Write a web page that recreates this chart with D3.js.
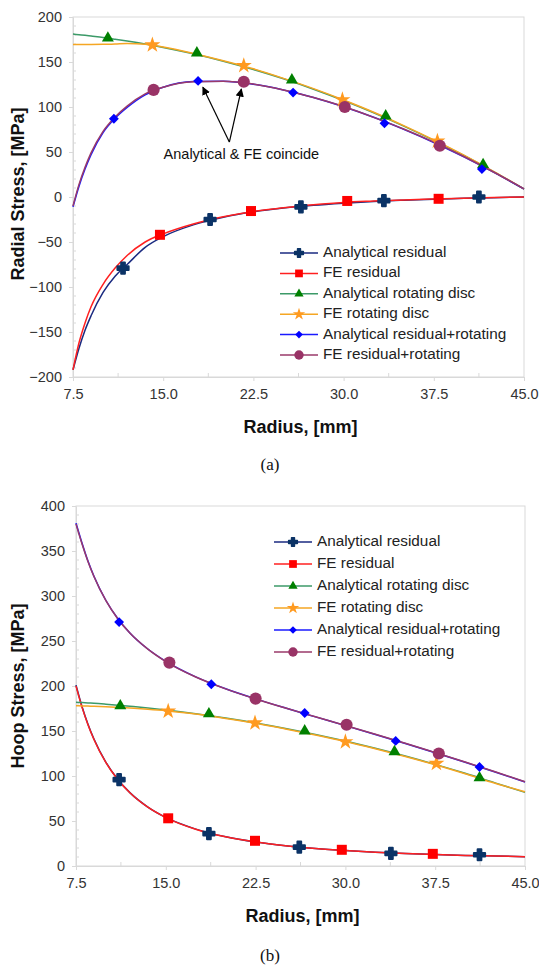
<!DOCTYPE html>
<html>
<head>
<meta charset="utf-8">
<script src="https://cdn.jsdelivr.net/npm/d3@7"></script>
<style>
  body { margin: 0; background: #fff; }
  svg { display: block; font-family: "Liberation Sans", Arial, sans-serif; }
</style>
</head>
<body>
<svg id="chart" width="539" height="969"></svg>
<script>
const radius = [7.5, 8, 8.5, 9, 10, 11, 12, 13.5, 15, 17.5, 20, 22.5, 25, 27.5, 30, 32.5, 35, 37.5, 40, 42.5, 45];

const seriesNames = ['Analytical residual', 'FE residual', 'Analytical rotating disc',
  'FE rotating disc', 'Analytical residual+rotating', 'FE residual+rotating'];

// (a) radial stress, MPa
const radialAnaResidual = [-192, -168, -148, -132, -106, -88, -75, -56, -44, -31, -22.5, -16.5, -12.3, -9.2, -6.9, -5, -3.6, -2.4, -1.5, -0.7, 0];
const radialFeResidual  = [-192, -162, -140, -122, -97, -79, -65, -50, -41, -30, -22, -16, -12, -8.6, -6, -4.5, -3.2, -2.2, -1.3, -0.6, 0];
const radialAnaRotating = [181, 180.3, 179.6, 178.8, 177.2, 175.3, 173.3, 170, 166.2, 159.1, 150.9, 141.7, 131.3, 119.8, 107.2, 93.6, 78.8, 63, 46.1, 28, 8.9];
const radialFeRotating  = [169.5, 169.5, 169.5, 169.5, 169.6, 170, 170.6, 169.8, 166.6, 159.5, 151.4, 142.4, 131.8, 120.4, 107.8, 94.2, 79.3, 63.4, 46.5, 28.3, 9];
const radialAnaCombined = [-11, 12, 31, 47, 71.6, 87.5, 99.5, 113.5, 122, 128.3, 128.6, 125.3, 119, 110.6, 100.3, 88.6, 75.2, 60.6, 44.6, 27.3, 8.9];
const radialFeCombined  = [-10, 14, 33, 49, 73, 89, 101, 114.5, 122, 128, 128.5, 125.5, 119, 110.5, 100.5, 88.5, 75.5, 61, 45, 27.5, 9];

const radialAnaResidualMarks = [[11.66, -79], [18.9, -25], [26.45, -11], [33.35, -4], [41.25, 0]];
const radialFeResidualMarks  = [[14.73, -42], [22.3, -15.6], [30.3, -4.4], [37.9, -2]];
const radialAnaRotatingMarks = [[10.4, 176.5], [17.8, 160], [25.7, 130], [33.5, 90], [41.6, 36]];
const radialFeRotatingMarks  = [[14.1, 169], [21.7, 146], [29.9, 108], [37.8, 62]];
const radialAnaCombinedMarks = [[10.9, 87], [17.9, 129], [25.8, 116], [33.4, 82], [41.5, 31]];
const radialFeCombinedMarks  = [[14.2, 119], [21.7, 128], [30.1, 100], [38, 57]];

// (b) hoop stress, MPa
const hoopAnaResidual = [201, 177.3, 157.6, 141.1, 115.2, 96.1, 81.5, 65.5, 54, 41, 32.5, 26.7, 22.6, 19.5, 17.2, 15.4, 14, 12.8, 11.8, 11.1, 10.4];
const hoopFeResidual  = [200, 176.5, 157, 140.6, 114.8, 95.8, 81.3, 65.3, 53.8, 40.9, 32.4, 26.7, 22.6, 19.5, 17.2, 15.4, 14, 12.8, 11.8, 11.1, 10.4];
const hoopAnaRotating = [182, 181.6, 181.2, 180.8, 179.8, 178.7, 177.5, 175.6, 173.4, 169.2, 164.4, 159, 152.9, 146.2, 138.8, 130.8, 122.2, 112.9, 103, 92.4, 81.8];
const hoopFeRotating  = [178, 177.9, 177.7, 177.5, 177, 176.3, 175.5, 174.2, 172.6, 168.8, 164, 158.6, 152.3, 145.6, 138.3, 130.2, 121.6, 112.4, 102.4, 91.9, 82.5];
const hoopAnaCombined = [381, 358.9, 338.8, 321.9, 295, 274.8, 259, 241.1, 227.4, 210.2, 196.9, 185.7, 175.5, 165.7, 156, 146.2, 136.2, 125.9, 115.3, 104.5, 93.3];
const hoopFeCombined  = [380, 358, 338.4, 321.6, 294.8, 274.5, 258.8, 241, 227.2, 210, 196.8, 185.6, 175.5, 165.8, 156.2, 146.4, 136.4, 126, 115.5, 104.7, 93.7];

const hoopAnaResidualMarks = [[11.1, 96], [18.6, 36], [26.15, 21], [33.8, 14], [41.2, 12.5]];
const hoopFeResidualMarks  = [[15.2, 53], [22.45, 28], [29.7, 18], [37.3, 13.5]];
const hoopAnaRotatingMarks = [[11.2, 178], [18.6, 169], [26.6, 150], [34.1, 127], [41.2, 98]];
const hoopFeRotatingMarks  = [[15.2, 172], [22.45, 159], [30, 138], [37.6, 114]];
const hoopAnaCombinedMarks = [[11.1, 271], [18.8, 202], [26.6, 170], [34.2, 139], [41.2, 110]];
const hoopFeCombinedMarks  = [[15.3, 226], [22.5, 186], [30.1, 157], [37.8, 125]];

const xTicks = [7.5, 15, 22.5, 30, 37.5, 45];
const radialTicks = [-200, -150, -100, -50, 0, 50, 100, 150, 200];
const hoopTicks = [0, 50, 100, 150, 200, 250, 300, 350, 400];

// styles for the six series
const lineColors   = ['#1a2a80', '#ff2020', '#3c9a68', '#f5a623', '#1a1aff', '#9a3a6a'];
const markerColors = ['#0b3366', '#ff0000', '#008000', '#ff9a20', '#0000ff', '#993366'];
const shapes = [d3.symbolCross, d3.symbolSquare, d3.symbolTriangle, d3.symbolStar, d3.symbolDiamond2, d3.symbolCircle];
const shapeSizes = [70, 100, 62, 80, 62, 115];

const svg = d3.select('#chart');

function drawPanel(opt) {
  const g = svg.append('g');
  const x = d3.scaleLinear().domain([7.5, 45]).range([opt.left, opt.right]);
  const y = d3.scaleLinear().domain([opt.ticks[0], opt.ticks[opt.ticks.length - 1]]).range([opt.bottom, opt.top]);
  const axisColor = '#d9d9d9';

  //plot area frame
  g.append('rect')
    .attr('x', opt.left).attr('y', opt.top)
    .attr('width', opt.right - opt.left).attr('height', opt.bottom - opt.top)
    .attr('fill', 'none').attr('stroke', axisColor);

  //minor ticks (inside)
  const yMinor = d3.range(opt.ticks[0], opt.ticks[opt.ticks.length - 1], 10).filter(v => v % 50 !== 0);
  g.selectAll('.ym').data(yMinor).join('line')
    .attr('x1', opt.left).attr('x2', opt.left + 3)
    .attr('y1', d => y(d)).attr('y2', d => y(d))
    .attr('stroke', axisColor);
  g.selectAll('.xm').data([11.25, 18.75, 26.25, 33.75, 41.25]).join('line')
    .attr('x1', d => x(d)).attr('x2', d => x(d))
    .attr('y1', opt.bottom).attr('y2', opt.bottom - 4)
    .attr('stroke', axisColor);

  const yAxis = g.append('g')
    .attr('transform', `translate(${opt.left},0)`)
    .call(d3.axisLeft(y).tickValues(opt.ticks).tickSize(4).tickPadding(7).tickSizeOuter(0));
  const xAxis = g.append('g')
    .attr('transform', `translate(0,${opt.bottom})`)
    .call(d3.axisBottom(x).tickValues(xTicks).tickFormat(d3.format('.1f')).tickSize(4).tickPadding(8).tickSizeOuter(0));
  [yAxis, xAxis].forEach(a => {
    a.select('.domain').attr('stroke', axisColor);
    a.selectAll('.tick line').attr('stroke', axisColor);
    a.selectAll('.tick text').attr('fill', '#333').style('font-size', '14.5px')
      .style('font-family', '"Liberation Sans", Arial, sans-serif');
  });

  //axis titles
  g.append('text')
    .attr('x', (opt.left + opt.right) / 2 + 2).attr('y', opt.bottom + 56)
    .attr('text-anchor', 'middle').attr('font-weight', 'bold').attr('font-size', 18)
    .attr('fill', '#111').text('Radius, [mm]');
  g.append('text')
    .attr('transform', `translate(${opt.titleX},${opt.titleY}) rotate(-90)`)
    .attr('text-anchor', 'middle').attr('dominant-baseline', 'middle')
    .attr('font-weight', 'bold').attr('font-size', 18).attr('fill', '#111')
    .text(opt.yTitle);

  const line = d3.line()
    .x((d, i) => x(radius[i]))
    .y(d => y(d))
    .curve(d3.curveMonotoneX);

  opt.lines.forEach((vals, i) => {
    g.append('path')
      .attr('d', line(vals))
      .attr('fill', 'none')
      .attr('stroke', lineColors[i])
      .attr('stroke-width', 1.5);
  });

  opt.marks.forEach((pts, i) => {
    g.selectAll(null).data(pts).join('path')
      .attr('d', d3.symbol(shapes[i], shapeSizes[i]))
      .attr('transform', d => `translate(${x(d[0])},${y(d[1])})`)
      .attr('fill', markerColors[i])
      .attr('stroke', i === 0 ? markerColors[i] : 'none')
      .attr('stroke-width', i === 0 ? 2 : 0)
      .attr('stroke-linejoin', 'round');
  });

  //legend
  const lg = g.append('g');
  seriesNames.forEach((name, i) => {
    const ly = opt.legendY + i * opt.legendStep;
    lg.append('line')
      .attr('x1', opt.legendX).attr('x2', opt.legendX + 38)
      .attr('y1', ly).attr('y2', ly)
      .attr('stroke', lineColors[i]).attr('stroke-width', 1.5);
    lg.append('path')
      .attr('d', d3.symbol(shapes[i], shapeSizes[i] * 0.6))
      .attr('transform', `translate(${opt.legendX + 19},${ly})`)
      .attr('fill', markerColors[i])
      .attr('stroke', i === 0 ? markerColors[i] : 'none')
      .attr('stroke-width', i === 0 ? 1.5 : 0)
      .attr('stroke-linejoin', 'round');
    lg.append('text')
      .attr('x', opt.legendX + 43).attr('y', ly)
      .attr('dominant-baseline', 'middle')
      .attr('font-size', 15.3).attr('fill', '#222')
      .text(name);
  });

  //caption
  svg.append('text')
    .attr('x', 270).attr('y', opt.captionY)
    .attr('text-anchor', 'middle').attr('dominant-baseline', 'middle')
    .attr('font-family', '"Liberation Serif", "Times New Roman", serif')
    .attr('font-size', 17).attr('fill', '#111')
    .text(opt.caption);

  return {g, x, y};
}

const radialPanel = drawPanel({
  left: 73, right: 524, top: 17, bottom: 377,
  ticks: radialTicks, yTitle: 'Radial Stress, [MPa]', titleX: 19, titleY: 194,
  lines: [radialAnaResidual, radialFeResidual, radialAnaRotating, radialFeRotating, radialAnaCombined, radialFeCombined],
  marks: [radialAnaResidualMarks, radialFeResidualMarks, radialAnaRotatingMarks, radialFeRotatingMarks, radialAnaCombinedMarks, radialFeCombinedMarks],
  legendX: 280, legendY: 253, legendStep: 20.4,
  caption: '(a)', captionY: 466
});

drawPanel({
  left: 76, right: 525, top: 506, bottom: 866,
  ticks: hoopTicks, yTitle: 'Hoop Stress, [MPa]', titleX: 19, titleY: 686,
  lines: [hoopAnaResidual, hoopFeResidual, hoopAnaRotating, hoopFeRotating, hoopAnaCombined, hoopFeCombined],
  marks: [hoopAnaResidualMarks, hoopFeResidualMarks, hoopAnaRotatingMarks, hoopFeRotatingMarks, hoopAnaCombinedMarks, hoopFeCombinedMarks],
  legendX: 274, legendY: 542, legendStep: 22,
  caption: '(b)', captionY: 957
});

//annotation with two arrows on the radial chart
const arrowBase = [20.5, 61];
const arrowTips = [[18.3, 122], [21.5, 120]];
svg.append('defs').append('marker')
  .attr('id', 'head').attr('viewBox', '0 0 10 10')
  .attr('refX', 9).attr('refY', 5)
  .attr('markerWidth', 7).attr('markerHeight', 7)
  .attr('orient', 'auto')
  .append('path').attr('d', 'M0,0L10,5L0,10z').attr('fill', '#000');
arrowTips.forEach(t => {
  radialPanel.g.append('line')
    .attr('x1', radialPanel.x(arrowBase[0])).attr('y1', radialPanel.y(arrowBase[1]))
    .attr('x2', radialPanel.x(t[0])).attr('y2', radialPanel.y(t[1]))
    .attr('stroke', '#000').attr('stroke-width', 1.2)
    .attr('marker-end', 'url(#head)');
});
radialPanel.g.append('text')
  .attr('x', radialPanel.x(21.5)).attr('y', radialPanel.y(46.5))
  .attr('text-anchor', 'middle').attr('dominant-baseline', 'middle')
  .attr('font-size', 14.5).attr('fill', '#111')
  .text('Analytical & FE coincide');
</script>
</body>
</html>
